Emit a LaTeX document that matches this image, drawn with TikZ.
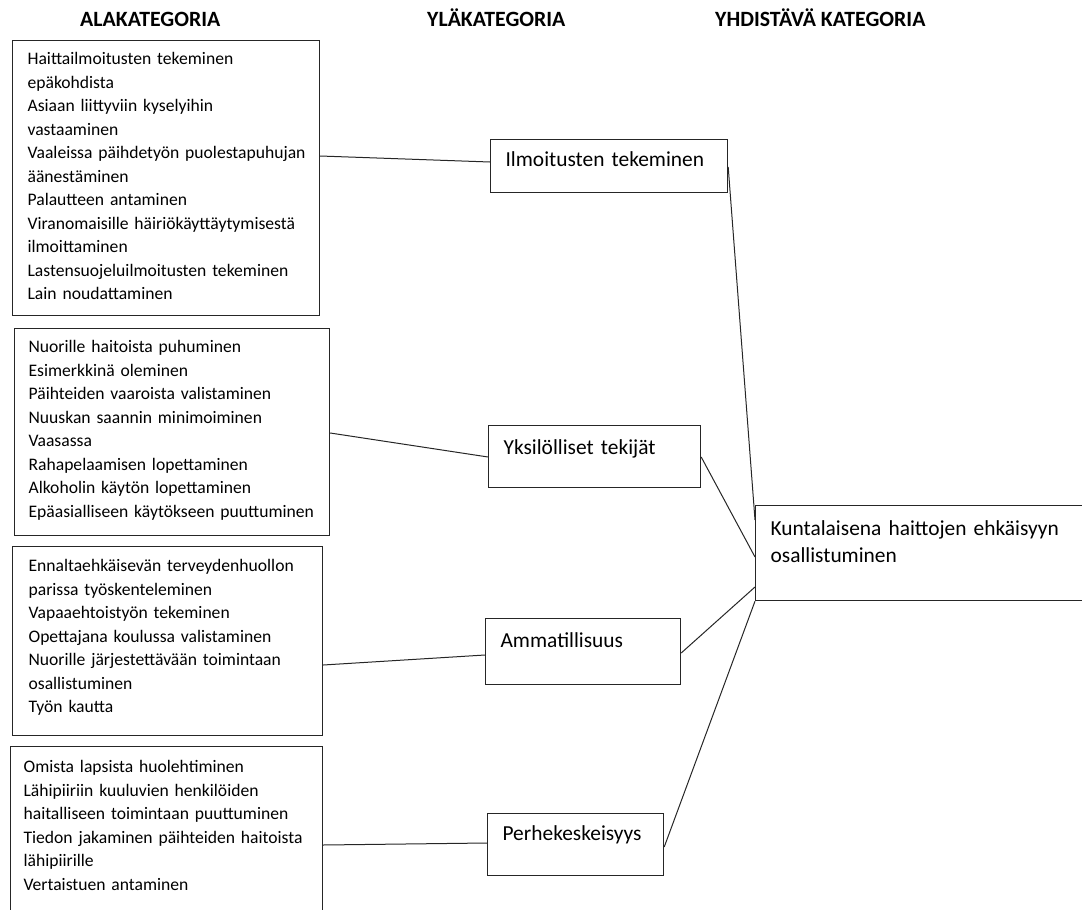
\documentclass[tikz,border=0pt]{standalone}
\usepackage{fontspec}
\setmainfont{Carlito}
\usetikzlibrary{calc}
\usetikzlibrary{math}

\newcommand{\alafont}{\fontsize{17.6}{23.5}\selectfont\hyphenpenalty=10000\relax}
\newcommand{\ylafont}{\fontsize{21.4}{27}\selectfont\hyphenpenalty=10000\relax}
\hfuzz=30pt
\hbadness=10000

\tikzset{
  alabox/.style={draw=black!85, line width=1.2pt, anchor=north west, align=left,
    inner xsep=15pt, inner ysep=0pt, text height=24pt, font=\alafont},
  ylabox/.style={draw=black!85, line width=1.2pt, anchor=north west, align=left,
    inner xsep=15pt, inner ysep=0pt, font=\ylafont},
  otsikko/.style={anchor=base west, inner sep=0pt,
    font=\fontsize{21.8}{24}\selectfont\bfseries},
  yhteys/.style={draw=black!85, line width=1pt},
}

\begin{document}
\begin{tikzpicture}[x=1pt,y=-1pt]

  \useasboundingbox (0,0) rectangle (1082,910);
  \clip (0,0) rectangle (1082,910);

  % column headings
  \node[otsikko] (otsAla) at (80,26)  {ALAKATEGORIA};
  \node[otsikko] (otsYla) at (427,26) {YLÄKATEGORIA};
  \node[otsikko] (otsYhd) at (715,26) {YHDISTÄVÄ KATEGORIA};

  % subcategories
  \node[alabox, text width=277pt, text depth=251pt] (alaIlm) at (12,40)
  {Haittailmoitusten tekeminen\\
   epäkohdista\\
   Asiaan liittyviin kyselyihin\\
   vastaaminen\\
   Vaaleissa~päihdetyön~puolestapuhujan\\
   äänestäminen\\
   Palautteen antaminen\\
   Viranomaisille~häiriökäyttäytymisestä\\
   ilmoittaminen\\
   Lastensuojeluilmoitusten~tekeminen\\
   Lain noudattaminen};

  \node[alabox, inner xsep=14pt, text width=287pt, text depth=183pt] (alaYks) at (14,328)
  {Nuorille haitoista puhuminen\\
   Esimerkkinä oleminen\\
   Päihteiden vaaroista valistaminen\\
   Nuuskan saannin minimoiminen\\
   Vaasassa\\
   Rahapelaamisen lopettaminen\\
   Alkoholin käytön lopettaminen\\
   Epäasialliseen~käytökseen~puuttuminen};

  \node[alabox, inner xsep=16pt, text width=278pt, text height=25pt, text depth=164pt] (alaAmm) at (12,546)
  {Ennaltaehkäisevän~terveydenhuollon\\
   parissa työskenteleminen\\
   Vapaaehtoistyön tekeminen\\
   Opettajana koulussa valistaminen\\
   Nuorille~järjestettävään~toimintaan\\
   osallistuminen\\
   Työn kautta};

  \node[alabox, inner xsep=13pt, text width=286pt, text height=26pt, text depth=170pt] (alaPer) at (10,746)
  {Omista lapsista huolehtiminen\\
   Lähipiiriin kuuluvien henkilöiden\\
   haitalliseen~toimintaan~puuttuminen\\
   Tiedon~jakaminen~päihteiden~haitoista\\
   lähipiirille\\
   Vertaistuen antaminen};

  % main categories
  \node[ylabox, text width=207pt, text height=27pt, text depth=26pt] (ylaIlm) at (490,139)
  {Ilmoitusten tekeminen};
  \node[ylabox, text width=182pt, text height=29pt, text depth=33pt] (ylaYks) at (488,425)
  {Yksilölliset tekijät};
  \node[ylabox, text width=165pt, text height=29pt, text depth=37pt] (ylaAmm) at (485,618)
  {Ammatillisuus};
  \node[ylabox, text width=146pt, text height=27pt, text depth=35pt] (ylaPer) at (487,813)
  {Perhekeskeisyys};

  % combining category
  \node[ylabox, text width=330pt, text height=30pt, text depth=65pt] (yhd) at (755,505)
  {Kuntalaisena haittojen ehkäisyyn\\osallistuminen};

  % sub -> main
  \draw[yhteys] ($(alaIlm.north east)+(0,116)$) -- ($(ylaIlm.north west)+(0,23)$);
  \draw[yhteys] ($(alaYks.north east)+(0,105)$) -- ($(ylaYks.north west)+(0,32)$);
  \draw[yhteys] ($(alaAmm.north east)+(0,119)$) -- ($(ylaAmm.north west)+(0,37)$);
  \draw[yhteys] ($(alaPer.north east)+(0,99)$)  -- ($(ylaPer.north west)+(0,30)$);

  % main -> combining
  \draw[yhteys] ($(ylaIlm.north east)+(0,28)$) -- ($(yhd.north west)+(0,15)$);
  \draw[yhteys] ($(ylaYks.north east)+(0,32)$) -- ($(yhd.north west)+(0,52)$);
  \draw[yhteys] ($(ylaAmm.north east)+(0,35)$) -- ($(yhd.north west)+(0,82)$);
  \draw[yhteys] ($(ylaPer.north east)+(0,34)$) -- (yhd.south west);

\end{tikzpicture}
\end{document}
